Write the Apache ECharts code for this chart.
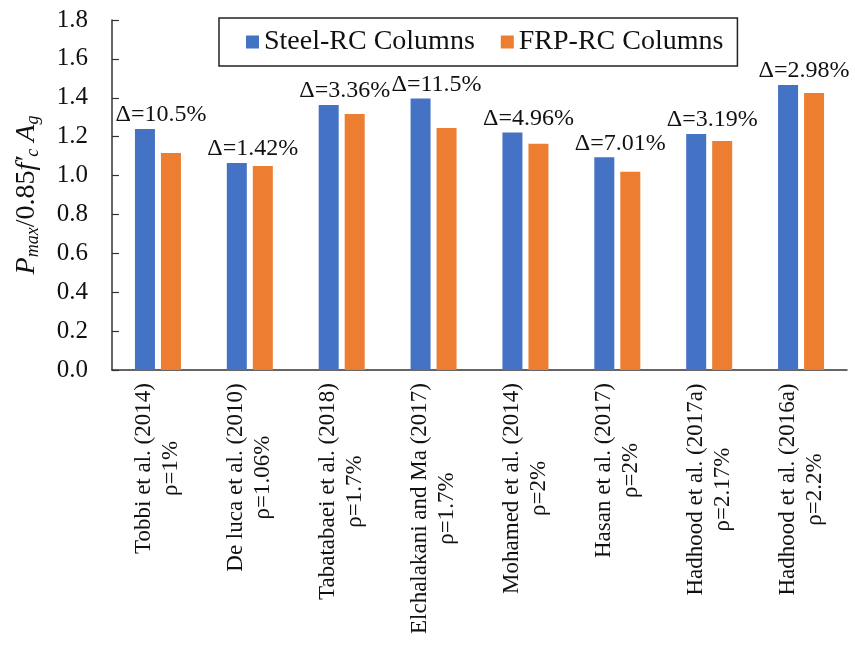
<!DOCTYPE html>
<html>
<head>
<meta charset="utf-8">
<script src="https://cdn.jsdelivr.net/npm/echarts@6/dist/echarts.min.js"></script>
<style>
html,body{margin:0;padding:0;background:#fff;}
#chart{width:855px;height:659px;}
</style>
</head>
<body>
<div id="chart"></div>
<script>
const studies = ["Tobbi et al. (2014)", "De luca et al. (2010)", "Tabatabaei et al. (2018)", "Elchalakani and Ma (2017)", "Mohamed et al. (2014)", "Hasan et al. (2017)", "Hadhood et al. (2017a)", "Hadhood et al. (2016a)"];
const rhos = ["ρ=1%", "ρ=1.06%", "ρ=1.7%", "ρ=1.7%", "ρ=2%", "ρ=2%", "ρ=2.17%", "ρ=2.2%"];
const steelValues = [1.240, 1.065, 1.363, 1.396, 1.221, 1.094, 1.214, 1.466];
const frpValues = [1.116, 1.049, 1.317, 1.245, 1.163, 1.020, 1.178, 1.425];
const deltaLabels = ["Δ=10.5%", "Δ=1.42%", "Δ=3.36%", "Δ=11.5%", "Δ=4.96%", "Δ=7.01%", "Δ=3.19%", "Δ=2.98%"];
const yTicks = { min: 0, max: 1.8, interval: 0.2 };

const FONT = '"Liberation Serif", "Times New Roman", serif';
const XFS = 23;

// measure the first line of each category label so the second line can be centred under it
const ctx = document.createElement('canvas').getContext('2d');
ctx.font = XFS + 'px ' + FONT;
const xRich = {};
studies.forEach((s, i) => {
  const w = Math.ceil(Math.max(ctx.measureText(s).width, ctx.measureText(rhos[i]).width));
  xRich['c' + i] = { fontFamily: FONT, fontSize: XFS, lineHeight: 27, width: w, align: 'center', color: '#111' };
});

const chart = echarts.init(document.getElementById('chart'));
chart.setOption({
  backgroundColor: '#fff',
  animation: false,
  textStyle: { fontFamily: FONT, color: '#111' },
  grid: { left: 112, right: 8, top: 20, bottom: 289, containLabel: false },
  legend: {
    left: 219, top: 18,
    padding: [10, 14, 10, 27],
    borderColor: '#222', borderWidth: 1.5,
    itemWidth: 13, itemHeight: 13, itemGap: 26,
    icon: 'rect',
    textStyle: { fontFamily: FONT, fontSize: 28, color: '#111' },
    data: ['Steel-RC Columns', 'FRP-RC Columns']
  },
  xAxis: {
    type: 'category',
    data: studies,
    axisLine: { lineStyle: { color: '#333', width: 1.5 } },
    axisTick: { show: false },
    axisLabel: {
      interval: 0, rotate: 90, margin: 13,
      formatter: function (v, i) { return '{c' + i + '|' + v + '}\n{c' + i + '|' + rhos[i] + '}'; },
      rich: xRich
    }
  },
  yAxis: {
    type: 'value',
    min: yTicks.min, max: yTicks.max, interval: yTicks.interval,
    splitLine: { show: false },
    axisLine: { show: true, lineStyle: { color: '#333', width: 1.5 } },
    axisTick: { show: true, inside: true, length: 7, lineStyle: { color: '#333', width: 1.2 } },
    axisLabel: { fontFamily: FONT, fontSize: 25, color: '#111', margin: 24, formatter: v => v.toFixed(1) },
    name: '{i|P}{s|max}{n|/0.85}{i|f′}{s|c}{i| A}{s|g}',
    nameLocation: 'middle',
    nameGap: 70,
    nameRotate: 90,
    nameTextStyle: {
      rich: {
        i: { fontFamily: FONT, fontStyle: 'italic', fontSize: 28, lineHeight: 30, color: '#111' },
        n: { fontFamily: FONT, fontSize: 28, lineHeight: 30, color: '#111' },
        s: { fontFamily: FONT, fontStyle: 'italic', fontSize: 18, lineHeight: 12, verticalAlign: 'bottom', color: '#111' }
      }
    }
  },
  series: [
    {
      name: 'Steel-RC Columns', type: 'bar', data: steelValues,
      barWidth: 20, barGap: '30%',
      itemStyle: { color: '#4472C4' },
      label: {
        show: true, position: 'top', distance: 2, offset: [16, 0],
        fontFamily: FONT, fontSize: 24, color: '#111',
        formatter: p => deltaLabels[p.dataIndex]
      }
    },
    {
      name: 'FRP-RC Columns', type: 'bar', data: frpValues,
      barWidth: 20,
      itemStyle: { color: '#ED7D31' }
    }
  ]
});
</script>
</body>
</html>
